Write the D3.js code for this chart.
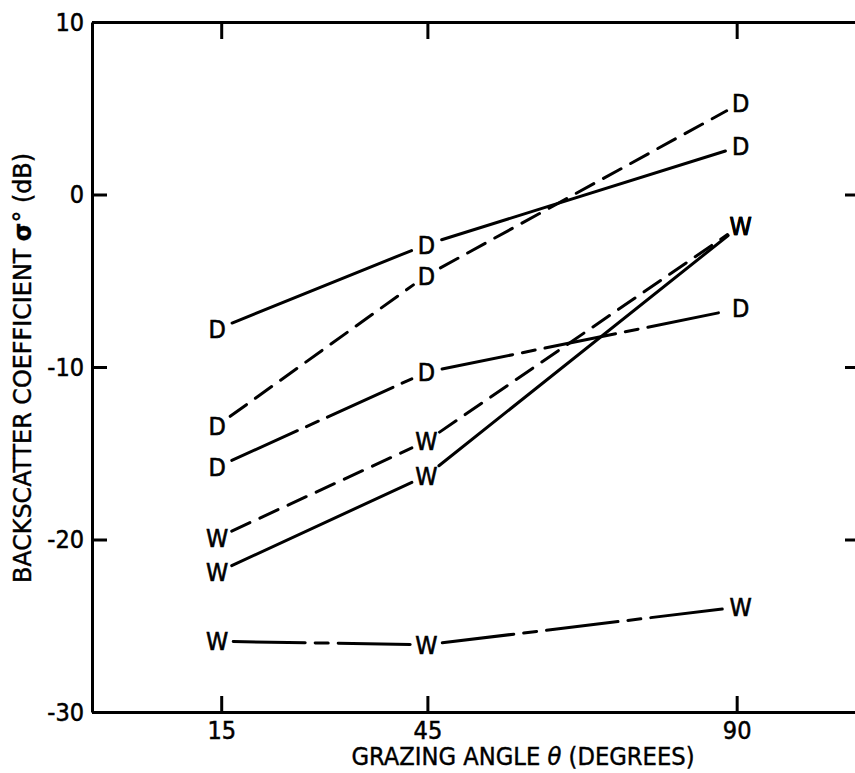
<!DOCTYPE html>
<html>
<head>
<meta charset="utf-8">
<script src="https://cdn.jsdelivr.net/npm/d3@7"></script>
<style>
  body { margin: 0; background: #fff; overflow: hidden; }
  text { font-family: "DejaVu Sans Condensed", "DejaVu Sans", sans-serif; fill: #000; }
</style>
</head>
<body>
<div id="chart"></div>
<script>
// grazing angles (degrees) and y tick values (dB)
const angles = [15, 45, 90]
const yTicks = [10, 0, -10, -20, -30]
const rightTicks = [0, -10, -20]

// backscatter values per curve, D = dry, W = wet
const dSolid = [-7.8, -2.9, 2.8]
const dDashed = [-13.4, -4.7, 5.3]
const dDashDot = [-15.8, -10.3, -6.6]
const wSolid = [-21.9, -16.3, -1.8]
const wDashed = [-19.9, -14.3, -1.8]
const wDashDot = [-25.9, -26.1, -23.9]

const curves = [
  { label: 'D', values: dSolid, style: 'solid' },
  { label: 'D', values: dDashed, style: 'dashed' },
  { label: 'D', values: dDashDot, style: 'dashdot' },
  { label: 'W', values: wSolid, style: 'solid' },
  { label: 'W', values: wDashed, style: 'dashed' },
  { label: 'W', values: wDashDot, style: 'dashdot' }
]

const w = 855
const h = 773
const dashes = { solid: null, dashed: '20,11', dashdot: '72,10,13,10' }
const labelShift = [-4, -1, 4]

// right edge of the frame falls just outside the picture
const x = d3.scaleLinear().domain([-3.8, 109.4]).range([92, 870])
const y = d3.scaleLinear().domain([-30, 10]).range([712, 22])

const svg = d3.select('#chart')
  .append('svg')
  .attr('width', w)
  .attr('height', h)
  .style('display', 'block')

// frame + ticks
const styleAxis = (g) => {
  g.selectAll('path, line').attr('stroke', '#000').attr('stroke-width', 3)
  g.selectAll('text')
    .attr('font-size', 25)
    .attr('font-family', null)
    .attr('fill', '#000')
    .attr('stroke', '#000')
    .attr('stroke-width', 0.5)
}

svg.append('g')
  .attr('transform', 'translate(' + x.range()[0] + ',0)')
  .call(d3.axisLeft(y).tickValues(yTicks).tickSize(-15).tickSizeOuter(0).tickPadding(8).tickFormat(d => String(d)))
  .call(styleAxis)

// right side: only the inward ticks show, the frame line itself is off the page
svg.append('g')
  .attr('transform', 'translate(' + x.range()[1] + ',0)')
  .call(d3.axisRight(y).tickValues(rightTicks).tickSize(-25).tickSizeOuter(0).tickFormat(''))
  .call(styleAxis)
  .call(g => g.select('.domain').remove())

svg.append('g')
  .attr('transform', 'translate(0,' + y.range()[1] + ')')
  .call(d3.axisTop(x).tickValues(angles).tickSize(-17).tickSizeOuter(0).tickFormat(''))
  .call(styleAxis)

svg.append('g')
  .attr('transform', 'translate(0,' + y.range()[0] + ')')
  .call(d3.axisBottom(x).tickValues(angles).tickSize(-16).tickSizeOuter(0).tickPadding(9))
  .call(styleAxis)

// curves: each segment trimmed so it stops short of the letters
const trim = 16
curves.forEach(c => {
  const pts = c.values.map((v, i) => [x(angles[i]) + labelShift[i], y(v)])
  for (let i = 0; i < pts.length - 1; i++) {
    const [x0, y0] = pts[i]
    const [x1, y1] = pts[i + 1]
    const len = Math.hypot(x1 - x0, y1 - y0)
    const ux = (x1 - x0) / len
    const uy = (y1 - y0) / len
    svg.append('line')
      .attr('x1', x0 + ux * trim)
      .attr('y1', y0 + uy * trim)
      .attr('x2', x1 - ux * trim)
      .attr('y2', y1 - uy * trim)
      .attr('stroke', '#000')
      .attr('stroke-width', 3)
      .attr('stroke-linecap', 'round')
      .attr('stroke-dasharray', dashes[c.style])
  }
  svg.selectAll(null)
    .data(pts)
    .enter()
    .append('text')
    .attr('x', d => d[0])
    .attr('y', d => d[1])
    .attr('dy', '0.36em')
    .attr('text-anchor', 'middle')
    .attr('font-size', 25)
    .attr('stroke', '#000')
    .attr('stroke-width', 0.6)
    .text(c.label)
})

// axis titles
svg.append('text')
  .attr('x', 523)
  .attr('y', 765)
  .attr('text-anchor', 'middle')
  .attr('font-size', 25)
  .attr('stroke', '#000')
  .attr('stroke-width', 0.4)
  .attr('textLength', 343)
  .attr('lengthAdjust', 'spacingAndGlyphs')
  .html('GRAZING ANGLE <tspan font-style="italic">θ</tspan> (DEGREES)')

svg.append('text')
  .attr('transform', 'translate(31,368) rotate(-90)')
  .attr('text-anchor', 'middle')
  .attr('font-size', 25)
  .attr('stroke', '#000')
  .attr('stroke-width', 0.4)
  .attr('textLength', 430)
  .attr('lengthAdjust', 'spacingAndGlyphs')
  .html('BACKSCATTER COEFFICIENT <tspan font-weight="bold">σ</tspan>° (dB)')
</script>
</body>
</html>
